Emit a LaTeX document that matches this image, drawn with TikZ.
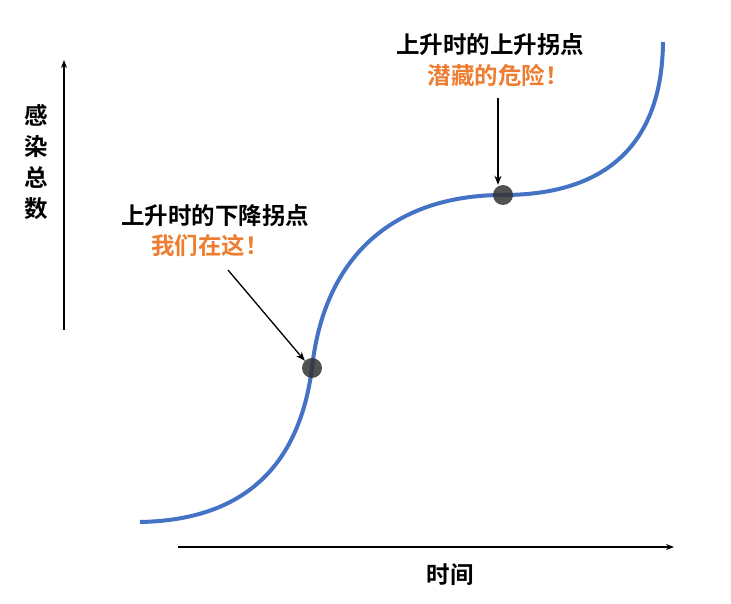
\documentclass[tikz,border=0pt]{standalone}
\usepackage{fontspec}
\setmainfont{Noto Sans CJK SC}[BoldFont={Noto Sans CJK SC Bold}]
\usetikzlibrary{arrows.meta}
\definecolor{curveblue}{HTML}{4472C4}
\definecolor{warnorange}{HTML}{ED7D31}
\begin{document}
\begin{tikzpicture}[x=1pt,y=-1pt,
  lbl/.style={font=\fontsize{23.5}{31}\selectfont\bfseries, inner sep=0pt},
  axis/.style={line width=1.3pt,-{Stealth[length=8pt,width=6pt]}},
  pointer/.style={line width=1.3pt,-{Stealth[length=9pt,width=7pt]}},
  dot/.style={circle,fill=black!80,opacity=0.85,minimum size=20pt,inner sep=0pt}]
\useasboundingbox (0,0) rectangle (731,604);
\coordinate (yb) at (64,330); \coordinate (yt) at (64,60);
\coordinate (xl) at (178,547); \coordinate (xr) at (674,547);
\draw[axis] (yb) -- (yt);
\draw[axis] (xl) -- (xr);
\node[lbl,align=center] (ylab) at (36,162) {感\\染\\总\\数};
\node[lbl] (xlab) at (450,575) {时间};
\draw[curveblue,line width=4pt] (140,522) .. controls (250,520) and (300,460) .. (312,368)
  .. controls (325,250) and (400,195) .. (503,195)
  .. controls (600,195) and (662,150) .. (663,42);
\node[dot] (p1) at (312,368) {};
\node[dot] (p2) at (503,195) {};
\node[lbl] (t2) at (490,45) {上升时的上升拐点};
\node[lbl,text=warnorange] (o2) at (498,75) {潜藏的危险！};
\node[lbl] (t1) at (215,216) {上升时的下降拐点};
\node[lbl,text=warnorange] (o1) at (210,246) {我们在这！};
\coordinate (a2s) at (498,98); \coordinate (a1s) at (228,270);
\draw[pointer] (a2s) -- (p2.north -| a2s);
\draw[pointer] (a1s) -- (p1.north west);
\end{tikzpicture}
\end{document}
